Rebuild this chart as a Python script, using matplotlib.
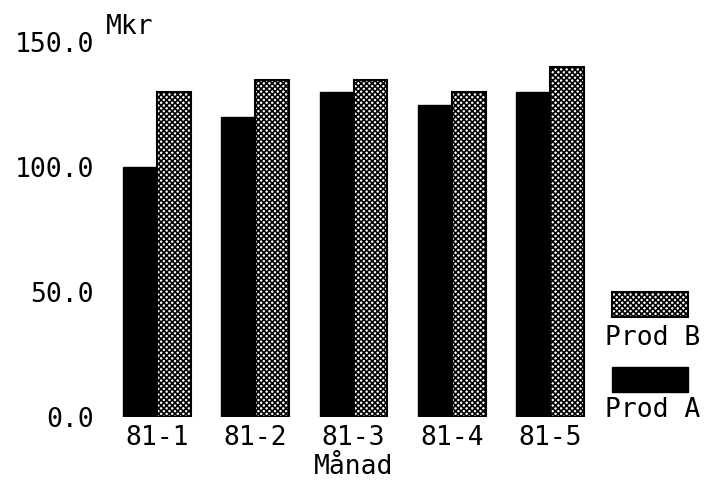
import matplotlib.pyplot as plt
from matplotlib.patches import Rectangle
import numpy as np

# =========================
# DATA
# =========================
months = ["81-1", "81-2", "81-3", "81-4", "81-5"]
prod_a = [100, 120, 130, 125, 130]
prod_b = [130, 135, 135, 130, 140]
y_ticks = [0, 50, 100, 150]
y_labels = ["0.0", "50.0", "100.0", "150.0"]

plt.rcParams['font.family'] = ['DejaVu Sans Mono']
plt.rcParams['hatch.linewidth'] = 1.2

FS = 19
W, H = 714, 482
fig = plt.figure(figsize=(W / 100, H / 100), dpi=100)
ax = fig.add_axes([108 / W, 65 / H, (599 - 108) / W, (417 - 42) / H])

x = np.arange(len(months))
bw = 0.345

ax.bar(x - bw / 2, prod_a, bw, color='black', edgecolor='black', linewidth=1)
ax.bar(x + bw / 2, prod_b, bw, color='white', edgecolor='black',
       hatch='xxxxxx', linewidth=1.5)

ax.set_xlim(-0.5, len(months) - 0.5)
ax.set_ylim(0, 150)
ax.set_yticks(y_ticks)
ax.set_yticklabels(y_labels, fontsize=FS)
ax.set_xticks(x)
ax.set_xticklabels(months, fontsize=FS)
ax.tick_params(length=0, axis='y', pad=10)
ax.tick_params(length=0, axis='x', pad=6)
for s in ax.spines.values():
    s.set_visible(False)

ax.set_xlabel("Månad", fontsize=FS, labelpad=2)
fig.text(106 / W, 1 - 27 / H, "Mkr", fontsize=FS, ha='left', va='center')

# =========================
# LEGEND (drawn by hand)
# =========================
fig.add_artist(Rectangle((612 / W, 1 - 317 / H), 76 / W, 25 / H,
                         transform=fig.transFigure, facecolor='white',
                         edgecolor='black', hatch='xxxxxx', linewidth=1.5))
fig.text(605 / W, 1 - 338 / H, "Prod B", fontsize=FS, ha='left', va='center')
fig.add_artist(Rectangle((612 / W, 1 - 392 / H), 76 / W, 25 / H,
                         transform=fig.transFigure, facecolor='black',
                         edgecolor='black'))
fig.text(605 / W, 1 - 410 / H, "Prod A", fontsize=FS, ha='left', va='center')

plt.savefig("out.png", dpi=100)
